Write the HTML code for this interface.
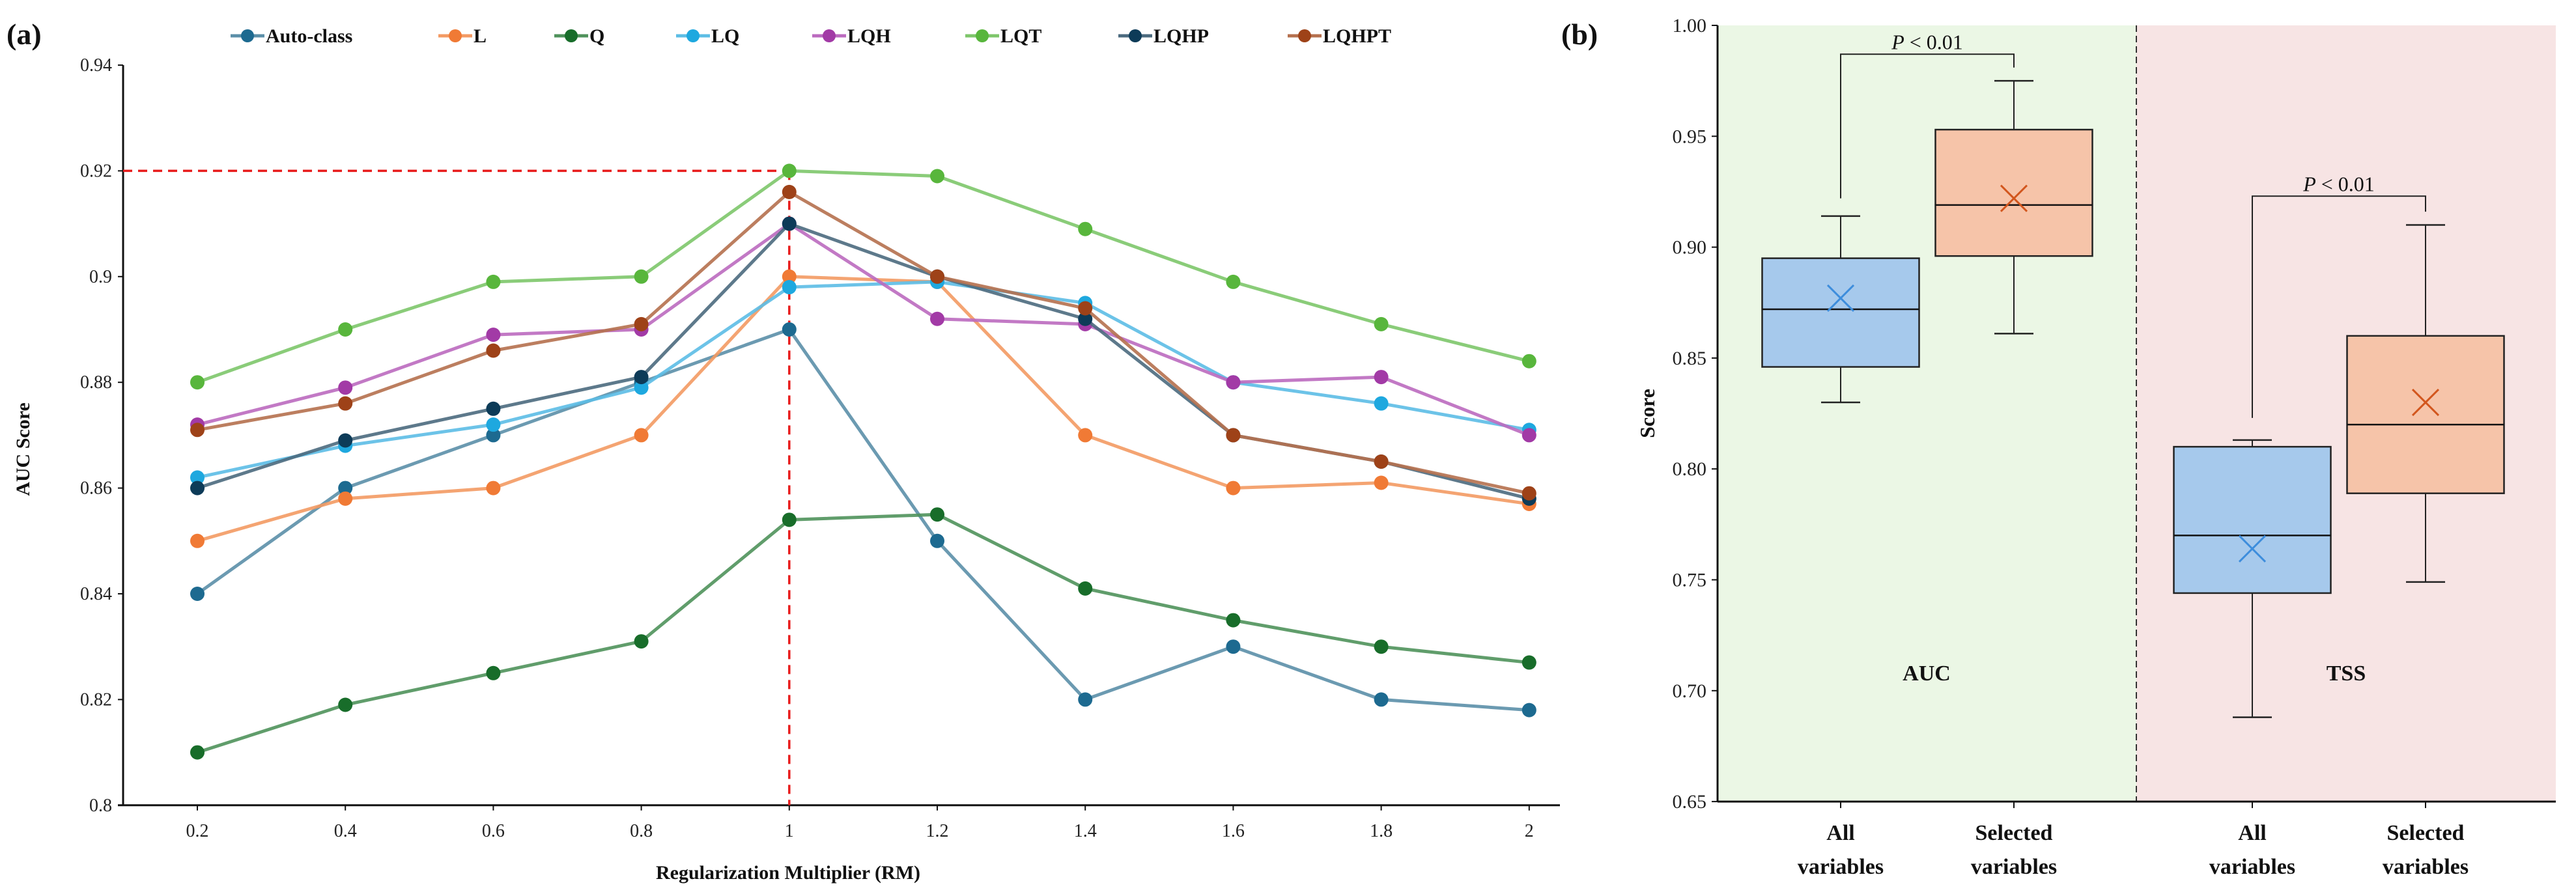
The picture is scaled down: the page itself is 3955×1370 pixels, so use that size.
<!DOCTYPE html>
<html><head><meta charset="utf-8"><style>
html,body{margin:0;padding:0;background:#fff;}
svg{display:block;font-family:"Liberation Serif",serif;}
</style></head><body>
<svg id="chart" width="3955" height="1370" viewBox="0 0 3955 1370" xmlns="http://www.w3.org/2000/svg">
<g id="left"></g>
<g id="right"></g>
</svg>
<script>
// ---- Panel (a) data ----
const rmValues = [0.2,0.4,0.6,0.8,1,1.2,1.4,1.6,1.8,2];
const rmTickLabels = ["0.2","0.4","0.6","0.8","1","1.2","1.4","1.6","1.8","2"];
const aucTicks = [0.8,0.82,0.84,0.86,0.88,0.9,0.92,0.94];
const aucTickLabels = ["0.8","0.82","0.84","0.86","0.88","0.9","0.92","0.94"];
const seriesNames = ["Auto-class","L","Q","LQ","LQH","LQT","LQHP","LQHPT"];
const autoClass = [0.84,0.86,0.87,0.88,0.89,0.85,0.82,0.83,0.82,0.818];
const sL = [0.85,0.858,0.86,0.87,0.90,0.899,0.87,0.86,0.861,0.857];
const sQ = [0.81,0.819,0.825,0.831,0.854,0.855,0.841,0.835,0.83,0.827];
const sLQ = [0.862,0.868,0.872,0.879,0.898,0.899,0.895,0.88,0.876,0.871];
const sLQH = [0.872,0.879,0.889,0.89,0.91,0.892,0.891,0.88,0.881,0.87];
const sLQT = [0.88,0.89,0.899,0.90,0.92,0.919,0.909,0.899,0.891,0.884];
const sLQHP = [0.86,0.869,0.875,0.881,0.91,0.90,0.892,0.87,0.865,0.858];
const sLQHPT = [0.871,0.876,0.886,0.891,0.916,0.90,0.894,0.87,0.865,0.859];
const bestRM = 1;
const bestAUC = 0.92;

// ---- Panel (b) data ----
const boxCategories = ["All variables","Selected variables","All variables","Selected variables"];
const boxMin = [0.830,0.861,0.688,0.749];
const boxQ1 = [0.846,0.896,0.744,0.789];
const boxMedian = [0.872,0.919,0.770,0.820];
const boxQ3 = [0.895,0.953,0.810,0.860];
const boxMax = [0.914,0.975,0.813,0.910];
const boxMean = [0.877,0.922,0.764,0.830];
const scoreTicks = [0.65,0.70,0.75,0.80,0.85,0.90,0.95,1.00];
const scoreTickLabels = ["0.65","0.70","0.75","0.80","0.85","0.90","0.95","1.00"];
const bracketTop = [0.987,0.923];
const bracketLeftEnd = [0.922,0.823];
const bracketRightEnd = [0.981,0.916];
const bracketLabels = ["P < 0.01","P < 0.01"];

const NS="http://www.w3.org/2000/svg";
function mk(parent,tag,attrs,text){const e=document.createElementNS(NS,tag);for(const k in attrs)e.setAttribute(k,attrs[k]);if(text!==undefined)e.textContent=text;parent.appendChild(e);return e;}

// Panel a
const L=document.getElementById('left');
const xA=v=>303+(v-0.2)/0.2*227.2;
const yA=v=>100+(0.94-v)/0.02*162.4;
let e;
e=mk(L,'line',{x1:189,y1:yA(0.94),x2:189,y2:yA(0.8),stroke:'#111','stroke-width':3});

e=mk(L,'line',{x1:181,y1:yA(0.8),x2:2395,y2:yA(0.8),stroke:'#111','stroke-width':3});

aucTicks.forEach((t,i)=>{
  mk(L,'line',{x1:181,y1:yA(t),x2:189,y2:yA(t),stroke:'#111','stroke-width':2});
  e=mk(L,'text',{x:172,y:yA(t)+9,'text-anchor':'end','font-size':28,fill:'#222'},aucTickLabels[i]);
  
});
rmValues.forEach((v,i)=>{
  mk(L,'line',{x1:xA(v),y1:yA(0.8),x2:xA(v),y2:yA(0.8)+8,stroke:'#111','stroke-width':2});
  e=mk(L,'text',{x:xA(v),y:1285,'text-anchor':'middle','font-size':28,fill:'#222'},rmTickLabels[i]);
  
});
e=mk(L,'text',{x:1210,y:1350,'text-anchor':'middle','font-size':30,'font-weight':'bold',fill:'#111'},'Regularization  Multiplier (RM)');

e=mk(L,'text',{x:0,y:0,'text-anchor':'middle','font-size':30,'font-weight':'bold',fill:'#111',transform:'translate(45,690) rotate(-90)'},'AUC Score');

e=mk(L,'text',{x:10,y:68,'font-size':46,'font-weight':'bold',fill:'#111'},'(a)');

// reference lines
e=mk(L,'line',{x1:189,y1:yA(bestAUC),x2:xA(bestRM),y2:yA(bestAUC),stroke:'#e81c1c','stroke-width':3.5,'stroke-dasharray':'14 9'});

e=mk(L,'line',{x1:xA(bestRM),y1:yA(bestAUC),x2:xA(bestRM),y2:yA(0.8),stroke:'#e81c1c','stroke-width':3.5,'stroke-dasharray':'14 9'});


const seriesData=[autoClass,sL,sQ,sLQ,sLQH,sLQT,sLQHP,sLQHPT];
const dotColors=['#1d6a90','#f07a35','#186d2a','#1ea8df','#a23aa6','#58b63c','#0d3b58','#9e4218'];
const lineColors=['#5b8fa8','#f39a63','#4f925b','#5cbde5','#bb6abf','#7dc66a','#4b6a7e','#b5704e'];
const legendX=[380,699,877,1064,1273,1508,1743,2003];
const order=[5,4,7,6,3,1,0,2];
seriesData.forEach((s,si)=>{
  const g=mk(L,'g',{});
  
  
  const pts=s.map((v,i)=>xA(rmValues[i])+','+yA(v)).join(' ');
  e=mk(g,'polyline',{points:pts,fill:'none',stroke:lineColors[si],'stroke-width':5,'stroke-opacity':0.9});
  
  s.forEach((v,i)=>{
    const c=mk(g,'circle',{cx:xA(rmValues[i]),cy:yA(v),r:11,fill:dotColors[si]});
    
    
  });
  // legend
  const lg=mk(L,'g',{});
  
  
  mk(lg,'line',{x1:legendX[si]-26,y1:55,x2:legendX[si]+26,y2:55,stroke:lineColors[si],'stroke-width':5});
  mk(lg,'circle',{cx:legendX[si],cy:55,r:10,fill:dotColors[si]});
  mk(lg,'text',{x:legendX[si]+28,y:65,'font-size':30,'font-weight':'bold',fill:'#111'},seriesNames[si]);
});

// Panel b
const R=document.getElementById('right');
const yB=v=>39+(1-v)/0.05*170.3;
const bx=[2826,3092,3458,3724];
const bw=241;
e=mk(R,'rect',{x:2638,y:yB(1),width:3280-2638,height:yB(0.65)-yB(1),fill:'#ebf7e5'});

e=mk(R,'rect',{x:3280,y:yB(1),width:3924-3280,height:yB(0.65)-yB(1),fill:'#f7e4e4'});

e=mk(R,'line',{x1:3280,y1:yB(1),x2:3280,y2:yB(0.65),stroke:'#333','stroke-width':2,'stroke-dasharray':'10 6'});

e=mk(R,'line',{x1:2637,y1:yB(1),x2:2637,y2:yB(0.65),stroke:'#111','stroke-width':3});

e=mk(R,'line',{x1:2637,y1:yB(0.65),x2:3924,y2:yB(0.65),stroke:'#111','stroke-width':3});

scoreTicks.forEach((t,i)=>{
  mk(R,'line',{x1:2628,y1:yB(t),x2:2637,y2:yB(t),stroke:'#111','stroke-width':2});
  e=mk(R,'text',{x:2620,y:yB(t)+10,'text-anchor':'end','font-size':30,fill:'#222'},scoreTickLabels[i]);
  
});
e=mk(R,'text',{x:0,y:0,'text-anchor':'middle','font-size':32,'font-weight':'bold',fill:'#111',transform:'translate(2540,635) rotate(-90)'},'Score');

e=mk(R,'text',{x:2397,y:68,'font-size':46,'font-weight':'bold',fill:'#111'},'(b)');

const boxFill=['#a6c9ec','#f6c4a9','#a6c9ec','#f6c4a9'];
const meanColor=['#3d8ddc','#d2561d','#3d8ddc','#d2561d'];
boxCategories.forEach((c,i)=>{
  const g=mk(R,'g',{});
  
  
  const x=bx[i];
  mk(g,'line',{x1:x,y1:yB(boxMax[i]),x2:x,y2:yB(boxQ3[i]),stroke:'#222','stroke-width':2});
  mk(g,'line',{x1:x,y1:yB(boxQ1[i]),x2:x,y2:yB(boxMin[i]),stroke:'#222','stroke-width':2});
  mk(g,'line',{x1:x-30,y1:yB(boxMax[i]),x2:x+30,y2:yB(boxMax[i]),stroke:'#222','stroke-width':2.5});
  mk(g,'line',{x1:x-30,y1:yB(boxMin[i]),x2:x+30,y2:yB(boxMin[i]),stroke:'#222','stroke-width':2.5});
  mk(g,'rect',{x:x-bw/2,y:yB(boxQ3[i]),width:bw,height:yB(boxQ1[i])-yB(boxQ3[i]),fill:boxFill[i],stroke:'#222','stroke-width':2.5});
  mk(g,'line',{x1:x-bw/2,y1:yB(boxMedian[i]),x2:x+bw/2,y2:yB(boxMedian[i]),stroke:'#111','stroke-width':2.5});
  const my=yB(boxMean[i]);
  mk(g,'path',{d:`M${x-20},${my-20}L${x+20},${my+20}M${x-20},${my+20}L${x+20},${my-20}`,stroke:meanColor[i],'stroke-width':3,fill:'none'});
  const words=c.split(' ');
  const t1=mk(R,'text',{x:x,y:1290,'text-anchor':'middle','font-size':34,'font-weight':'bold',fill:'#111'},words[0]);
  
  const t2=mk(R,'text',{x:x,y:1342,'text-anchor':'middle','font-size':34,'font-weight':'bold',fill:'#111'},words[1]);
  
  mk(R,'line',{x1:x,y1:yB(0.65),x2:x,y2:yB(0.65)+10,stroke:'#111','stroke-width':2});
});
[0,1].forEach(k=>{
  const xl=bx[k*2],xr=bx[k*2+1];
  const g=mk(R,'g',{});
  
  
  mk(g,'path',{d:`M${xl},${yB(bracketLeftEnd[k])}L${xl},${yB(bracketTop[k])}L${xr},${yB(bracketTop[k])}L${xr},${yB(bracketRightEnd[k])}`,fill:'none',stroke:'#222','stroke-width':2});
  const t=mk(g,'text',{x:(xl+xr)/2,y:yB(bracketTop[k])-8,'text-anchor':'middle','font-size':32,fill:'#111'});
  const ti=mk(t,'tspan',{'font-style':'italic'},'P');
  mk(t,'tspan',{},bracketLabels[k].slice(1));
});
e=mk(R,'text',{x:2958,y:1045,'text-anchor':'middle','font-size':34,'font-weight':'bold',fill:'#111'},'AUC');

e=mk(R,'text',{x:3602,y:1045,'text-anchor':'middle','font-size':34,'font-weight':'bold',fill:'#111'},'TSS');

</script>
</body></html>
